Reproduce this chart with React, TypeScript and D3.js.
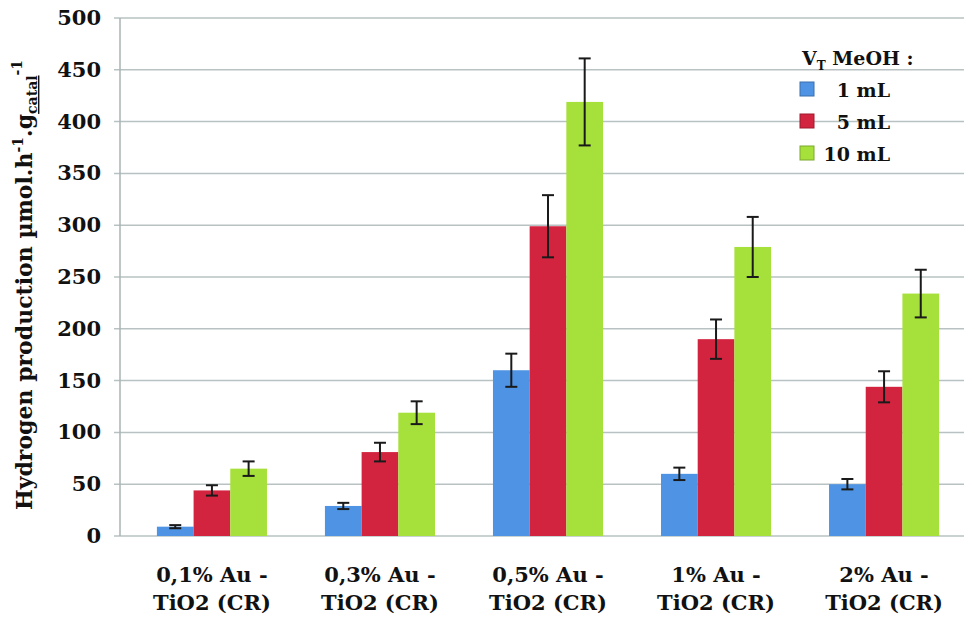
import React, { useEffect, useRef } from 'react';
import * as d3 from 'd3';

const categories = ['0,1% Au -|TiO2 (CR)', '0,3% Au -|TiO2 (CR)', '0,5% Au -|TiO2 (CR)', '1% Au -|TiO2 (CR)', '2% Au -|TiO2 (CR)'];
const seriesNames = ['1 mL', '5 mL', '10 mL'];
const seriesColors = ['#4f94e4', '#d2243f', '#a6e03a'];
const values1mL = [9, 29, 160, 60, 50];
const values5mL = [44, 81, 299, 190, 144];
const values10mL = [65, 119, 419, 279, 234];
const err1mL = [1.5, 3, 16, 6, 5];
const err5mL = [5, 9, 30, 19, 15];
const err10mL = [7, 11, 42, 29, 23];
const yTicks = [0, 50, 100, 150, 200, 250, 300, 350, 400, 450, 500];

const FONT = '"DejaVu Serif", "Liberation Serif", serif';

const App: React.FC = () => {
  const svgRef = useRef<SVGSVGElement>(null);
  const width = 975;
  const height = 624;

  useEffect(() => {
    if (!svgRef.current) return;
    const svg = d3.select(svgRef.current);
    svg.selectAll('*').remove();

    const left = 120, right = 964, top = 18, bottom = 536;
    const y = d3.scaleLinear().domain([0, 500]).range([bottom, top]);
    const x0 = d3.scaleBand<string>().domain(categories).range([128, 968]).paddingInner(0.345).paddingOuter(0.172);
    const x1 = d3.scaleBand<string>().domain(seriesNames).range([0, x0.bandwidth()]);

    const series = [
      { name: seriesNames[0], values: values1mL, errs: err1mL, color: seriesColors[0] },
      { name: seriesNames[1], values: values5mL, errs: err5mL, color: seriesColors[1] },
      { name: seriesNames[2], values: values10mL, errs: err10mL, color: seriesColors[2] },
    ];

    // gridlines
    svg.append('g')
      .selectAll('line')
      .data(yTicks)
      .enter().append('line')
      .attr('x1', left - 6)
      .attr('x2', right)
      .attr('y1', d => y(d))
      .attr('y2', d => y(d))
      .attr('stroke', '#b9c2c2')
      .attr('stroke-width', 1.5);

    // y axis line
    svg.append('line')
      .attr('x1', left).attr('x2', left)
      .attr('y1', top).attr('y2', bottom)
      .attr('stroke', '#a9b3b3').attr('stroke-width', 1.5);

    // y tick labels
    svg.append('g')
      .selectAll('text')
      .data(yTicks)
      .enter().append('text')
      .attr('x', 101)
      .attr('y', d => y(d) + 7)
      .attr('text-anchor', 'end')
      .style('font-family', FONT)
      .style('font-weight', 'bold')
      .style('font-size', '21px')
      .style('fill', '#111')
      .text(d => d);

    // bars
    series.forEach(s => {
      const g = svg.append('g');
      g.selectAll('rect')
        .data(categories)
        .enter().append('rect')
        .attr('x', (c) => (x0(c) || 0) + (x1(s.name) || 0))
        .attr('y', (c, i) => y(s.values[i]))
        .attr('width', x1.bandwidth())
        .attr('height', (c, i) => bottom - y(s.values[i]))
        .attr('fill', s.color);

      // error bars
      const eb = g.selectAll('g.err')
        .data(categories)
        .enter().append('g')
        .attr('class', 'err');
      const cx = (c: string) => (x0(c) || 0) + (x1(s.name) || 0) + x1.bandwidth() / 2;
      eb.append('line')
        .attr('x1', c => cx(c)).attr('x2', c => cx(c))
        .attr('y1', (c, i) => y(s.values[i] + s.errs[i]))
        .attr('y2', (c, i) => y(s.values[i] - s.errs[i]))
        .attr('stroke', '#1a1a1a').attr('stroke-width', 2);
      [1, -1].forEach(sign => {
        eb.append('line')
          .attr('x1', c => cx(c) - 6).attr('x2', c => cx(c) + 6)
          .attr('y1', (c, i) => y(s.values[i] + sign * s.errs[i]))
          .attr('y2', (c, i) => y(s.values[i] + sign * s.errs[i]))
          .attr('stroke', '#1a1a1a').attr('stroke-width', 2);
      });
    });

    // x labels
    const xl = svg.append('g')
      .selectAll('text')
      .data(categories)
      .enter().append('text')
      .attr('text-anchor', 'middle')
      .style('font-family', FONT)
      .style('font-weight', 'bold')
      .style('font-size', '21px')
      .style('fill', '#111');
    xl.append('tspan')
      .attr('x', c => (x0(c) || 0) + x0.bandwidth() / 2)
      .attr('y', 582)
      .text(c => c.split('|')[0]);
    xl.append('tspan')
      .attr('x', c => (x0(c) || 0) + x0.bandwidth() / 2)
      .attr('y', 610)
      .text(c => c.split('|')[1]);

    // y axis title
    const yt = svg.append('text')
      .attr('transform', 'translate(32,285) rotate(-90)')
      .attr('text-anchor', 'middle')
      .style('font-family', FONT)
      .style('font-weight', 'bold')
      .style('font-size', '22px')
      .style('fill', '#111');
    yt.append('tspan').text('Hydrogen production µmol.h');
    yt.append('tspan').attr('dy', -9).style('font-size', '14px').text('-1');
    yt.append('tspan').attr('dy', 9).text('.g');
    yt.append('tspan').attr('dy', 5).style('font-size', '14px').style('text-decoration', 'underline').text('catal');
    yt.append('tspan').attr('dy', -15).style('font-size', '14px').text('-1');

    // legend
    const lg = svg.append('g');
    const legText = lg.append('text')
      .attr('x', 802).attr('y', 65)
      .style('font-family', FONT)
      .style('font-weight', 'bold')
      .style('font-size', '19px')
      .style('fill', '#111');
    legText.append('tspan').text('V');
    legText.append('tspan').attr('dy', 5).style('font-size', '12px').text('T');
    legText.append('tspan').attr('dy', -5).text(' MeOH :');

    series.forEach((s, i) => {
      const ly = 89 + i * 32;
      lg.append('rect')
        .attr('x', 800).attr('y', ly - 7)
        .attr('width', 14).attr('height', 14)
        .attr('fill', s.color)
        .attr('stroke', d3.color(s.color)!.darker(0.8).toString())
        .attr('stroke-width', 1);
      lg.append('text')
        .attr('x', 890).attr('y', ly + 8)
        .attr('text-anchor', 'end')
        .style('font-family', FONT)
        .style('font-weight', 'bold')
        .style('font-size', '19px')
        .style('fill', '#111')
        .text(s.name);
    });
  }, []);

  return (
    <svg ref={svgRef} width={width} height={height}
      style={{ position: 'absolute', left: 0, top: 0, background: '#fff' }} />
  );
};

export default App;
